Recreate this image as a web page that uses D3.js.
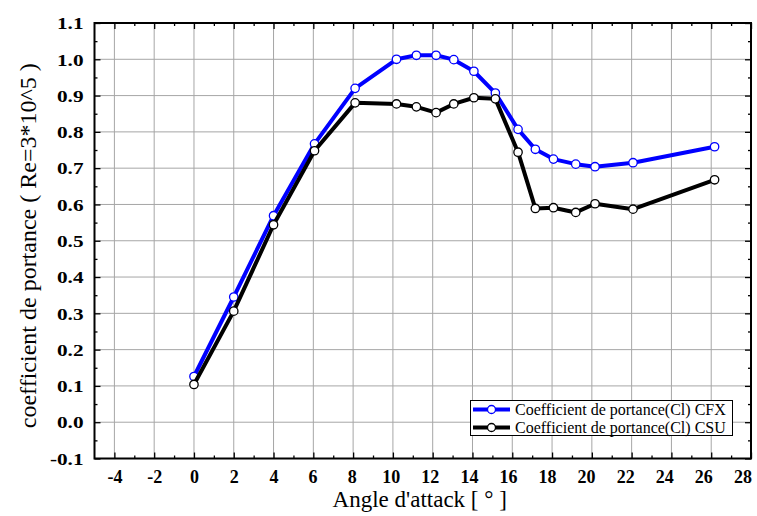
<!DOCTYPE html>
<html>
<head>
<meta charset="utf-8">
<script src="https://cdn.jsdelivr.net/npm/d3@7/dist/d3.min.js"></script>
<style>
  html, body { margin: 0; padding: 0; background: #fff; }
  svg { display: block; }
  text { font-family: "Liberation Serif", "Times New Roman", serif; }
</style>
</head>
<body>
<svg id="chart" width="757" height="516"></svg>
<script>
// Angle of attack (degrees) shared by both series
const angles = [0, 2, 4, 6.06, 8.1, 10.18, 11.18, 12.17, 13.06, 14.07, 15.15, 16.29, 17.16, 18.07, 19.19, 20.16, 22.07, 26.17];
// Lift coefficient from the CFX simulation
const clCFX = [0.126, 0.345, 0.569, 0.767, 0.920, 1.000, 1.011, 1.011, 0.999, 0.967, 0.907, 0.807, 0.752, 0.725, 0.711, 0.704, 0.715, 0.759];
// Lift coefficient from the CSU data
const clCSU = [0.104, 0.306, 0.544, 0.748, 0.880, 0.877, 0.869, 0.853, 0.877, 0.894, 0.891, 0.744, 0.589, 0.591, 0.578, 0.602, 0.587, 0.668];

const seriesNames = ["Coefficient de portance(Cl) CFX", "Coefficient de portance(Cl) CSU"];
const seriesColors = ["#0000ff", "#000000"];

const xTicks = d3.range(-4, 28.01, 2);
const xMinor = d3.range(-3, 28, 2);
const yTicks = d3.range(-1, 12).map(d => d / 10);
const yMinor = d3.range(-1, 11).map(d => d / 10 + 0.05);

const xTitle = "Angle d'attack [ ° ]";
const yTitle = "coefficient de portance ( Re=3*10^5 )";

const svg = d3.select("#chart");
const L = 94.5, R = 751, T = 23, B = 458.5;

const x = d3.scaleLinear().domain([-5, 28]).range([L, R]);
const y = d3.scaleLinear().domain([-0.1, 1.1]).range([B, T]);

// grid
const grid = svg.append("g").attr("stroke", "#a6a6a6").attr("stroke-width", 1);
grid.selectAll("line.v").data(xTicks).join("line")
  .attr("x1", d => x(d)).attr("x2", d => x(d)).attr("y1", T).attr("y2", B);
grid.selectAll("line.h").data(yTicks.slice(1, -1)).join("line")
  .attr("x1", L).attr("x2", R).attr("y1", d => y(d)).attr("y2", d => y(d));

// axes with inward ticks on all four sides
const fmtX = d => String(d);
const fmtY = d => d.toFixed(1);
const axBottom = svg.append("g").attr("transform", `translate(0,${B})`)
  .call(d3.axisBottom(x).tickValues(xTicks).tickSizeInner(-6).tickSizeOuter(0).tickFormat(fmtX));
const axBottomMinor = svg.append("g").attr("transform", `translate(0,${B})`)
  .call(d3.axisBottom(x).tickValues(xMinor).tickSizeInner(-3).tickSizeOuter(0).tickFormat(""));
const axTop = svg.append("g").attr("transform", `translate(0,${T})`)
  .call(d3.axisTop(x).tickValues(xTicks).tickSizeInner(-6).tickSizeOuter(0).tickFormat(""));
const axTopMinor = svg.append("g").attr("transform", `translate(0,${T})`)
  .call(d3.axisTop(x).tickValues(xMinor).tickSizeInner(-3).tickSizeOuter(0).tickFormat(""));
const axLeft = svg.append("g").attr("transform", `translate(${L},0)`)
  .call(d3.axisLeft(y).tickValues(yTicks).tickSizeInner(-6).tickSizeOuter(0).tickFormat(fmtY));
const axLeftMinor = svg.append("g").attr("transform", `translate(${L},0)`)
  .call(d3.axisLeft(y).tickValues(yMinor).tickSizeInner(-3).tickSizeOuter(0).tickFormat(""));
const axRight = svg.append("g").attr("transform", `translate(${R},0)`)
  .call(d3.axisRight(y).tickValues(yTicks).tickSizeInner(-6).tickSizeOuter(0).tickFormat(""));
const axRightMinor = svg.append("g").attr("transform", `translate(${R},0)`)
  .call(d3.axisRight(y).tickValues(yMinor).tickSizeInner(-3).tickSizeOuter(0).tickFormat(""));

[axBottom, axBottomMinor, axTop, axTopMinor, axLeft, axLeftMinor, axRight, axRightMinor].forEach(g => {
  g.select(".domain").remove();
  g.attr("font-family", null);
  g.selectAll(".tick line").attr("stroke", "#000").attr("stroke-width", 1.3);
});
// bottom labels drift slightly left toward the right end of the axis
axBottom.selectAll(".tick text")
  .attr("y", 12).attr("dy", "0.71em")
  .attr("dx", d => d > 4 ? -(d - 4) * 0.36 : 0)
  .attr("fill", "#000")
  .style("font-family", "'Liberation Serif', serif")
  .style("font-size", "18px").style("font-weight", "bold");
// left labels are set slightly wide
const yStretch = 1.25;
axLeft.selectAll(".tick text")
  .attr("x", -11 / yStretch).attr("dy", "0.34em")
  .attr("transform", `scale(${yStretch},1)`)
  .attr("fill", "#000")
  .style("font-family", "'Liberation Serif', serif")
  .style("font-size", "17px").style("font-weight", "bold");

// frame
svg.append("rect").attr("x", L).attr("y", T).attr("width", R - L).attr("height", B - T)
  .attr("fill", "none").attr("stroke", "#000").attr("stroke-width", 2);

// series
const series = [clCFX, clCSU];
const line = d3.line().x(d => x(d[0])).y(d => y(d[1]));
series.forEach((vals, i) => {
  const pts = angles.map((a, k) => [a, vals[k]]);
  const g = svg.append("g");
  g.append("path").datum(pts).attr("d", line)
    .attr("fill", "none").attr("stroke", seriesColors[i]).attr("stroke-width", 4)
    .attr("stroke-linejoin", "round");
  g.selectAll("circle").data(pts).join("circle")
    .attr("cx", d => x(d[0])).attr("cy", d => y(d[1])).attr("r", 4.2)
    .attr("fill", "#fff").attr("stroke", seriesColors[i]).attr("stroke-width", 1.3);
});

// legend
const lg = svg.append("g");
lg.append("rect").attr("x", 470.5).attr("y", 400.5).attr("width", 262).attr("height", 35)
  .attr("fill", "#fff").attr("stroke", "#000").attr("stroke-width", 1);
seriesNames.forEach((name, i) => {
  const yy = 409.5 + i * 18;
  lg.append("line").attr("x1", 473).attr("x2", 510).attr("y1", yy).attr("y2", yy)
    .attr("stroke", seriesColors[i]).attr("stroke-width", 4);
  lg.append("circle").attr("cx", 491.5).attr("cy", yy).attr("r", 4)
    .attr("fill", "#fff").attr("stroke", seriesColors[i]).attr("stroke-width", 1.3);
  lg.append("text").attr("x", 515).attr("y", yy).attr("dy", "0.33em")
    .attr("font-size", 16).attr("fill", "#000").text(name);
});

// axis titles
svg.append("text").attr("x", (L + R) / 2 - 3).attr("y", 507)
  .attr("text-anchor", "middle").attr("font-size", 23).attr("fill", "#000").text(xTitle);
svg.append("text")
  .attr("transform", `translate(36,${(T + B) / 2 + 5}) rotate(-90)`)
  .attr("text-anchor", "middle").attr("font-size", 24).attr("fill", "#000").text(yTitle);
</script>
</body>
</html>
